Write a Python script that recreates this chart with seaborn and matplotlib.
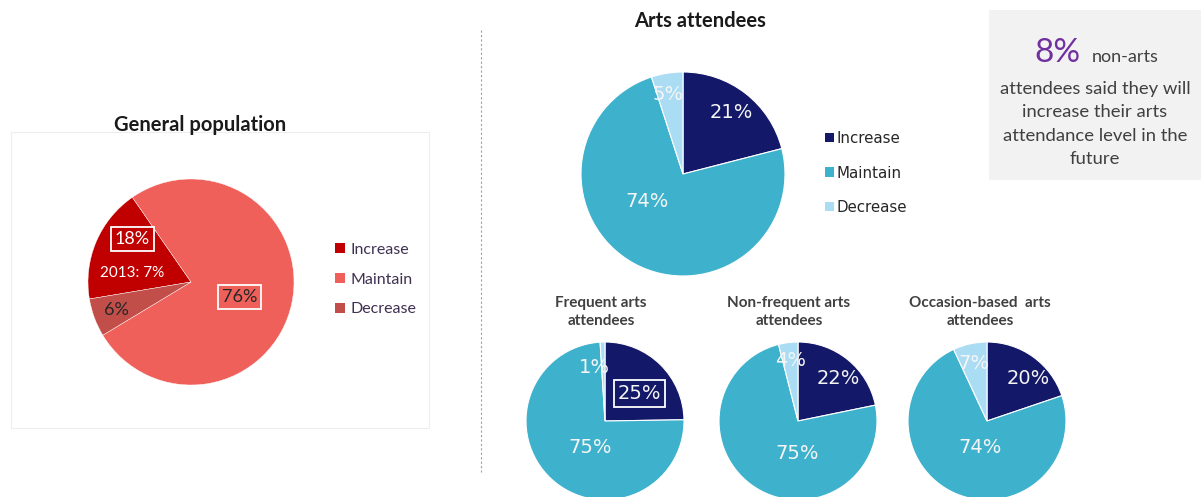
import matplotlib
matplotlib.use("Agg")
import matplotlib.pyplot as plt
from matplotlib.patches import Rectangle
from matplotlib.lines import Line2D
import seaborn as sns

sns.set_theme(style="white")
plt.rcParams["font.family"] = ["DejaVu Sans"]

# ---- data ----
categories = ["Increase", "Maintain", "Decrease"]

general_values = [18, 76, 6]
general_prev_increase = 7          # 2013 value for "Increase"

arts_values = [21, 74, 5]
frequent_values = [25, 75, 1]
nonfrequent_values = [22, 75, 4]
occasion_values = [20, 74, 7]

segment_titles = ["Frequent arts\nattendees", "Non-frequent arts\nattendees",
                  "Occasion-based  arts\nattendees"]

general_colors = sns.color_palette(["#C00000", "#F0605A", "#C24E4A"])
arts_colors = sns.color_palette(["#141868", "#3EB2CD", "#AADCF3"])

W, H = 1201, 497
fig = plt.figure(figsize=(W / 100, H / 100), dpi=100)
fig.patch.set_facecolor("white")


def px_axes(cx, cy, r):
    ax = fig.add_axes([(cx - r) / W, (H - cy - r) / H, 2 * r / W, 2 * r / H])
    ax.set_axis_off()
    return ax


def draw_pie(ax, values, colors, start, lw=0.8):
    wedges, _ = ax.pie(values, colors=colors, startangle=start, counterclock=False,
                       wedgeprops=dict(edgecolor="white", linewidth=lw))
    ax.set_xlim(-1, 1)
    ax.set_ylim(-1, 1)
    ax.set_aspect("equal")
    return wedges


def fx(x):
    return x / W


def fy(y):
    return 1 - y / H


# ---- decorations: panel frame, divider, info box (behind everything) ----
fig.add_artist(Rectangle((fx(11), fy(428)), (429 - 11) / W, (428 - 132) / H,
                         transform=fig.transFigure, fc="white", ec="#EDEDED", lw=0.8,
                         zorder=-10))
fig.add_artist(Line2D([fx(481), fx(481)], [fy(30), fy(472)], transform=fig.transFigure,
                      color="#A0A0A0", lw=0.8, ls=(0, (2, 2)), zorder=-10))
fig.add_artist(Rectangle((fx(989), fy(180)), (W - 989) / W, (180 - 10) / H,
                         transform=fig.transFigure, fc="#F2F2F2", ec="none", zorder=-10))

# ---- General population ----
fig.text(fx(200), fy(125), "General population", ha="center", va="center",
         fontsize=14.5, fontweight="bold", family="Lato", color="#1A1A1A")
ax_g = px_axes(191, 282, 103)
w_g = draw_pie(ax_g, general_values, general_colors, 189.5, lw=0.3)

box = dict(boxstyle="square,pad=0.22", fc="none", ec="white", lw=1.3)
g_label_pos = [(-0.57, 0.42), (0.47, -0.15), (-0.72, -0.27)]
g_label_col = ["white", "#262626", "#262626"]
g_label_box = [True, True, False]
for v, (x, y), c, b in zip(general_values, g_label_pos, g_label_col, g_label_box):
    ax_g.text(x, y, f"{v}%", ha="center", va="center", fontsize=13, family="Lato",
              color=c, bbox=box if b else None)
ax_g.text(-0.57, 0.09, f"2013: {general_prev_increase}%", ha="center", va="center",
          fontsize=11, family="Lato", color="white")

leg_g = ax_g.legend(w_g, categories, loc="center left",
                    bbox_to_anchor=(fx(335), fy(279.5)), bbox_transform=fig.transFigure,
                    frameon=False, borderpad=0, borderaxespad=0, handlelength=0.65,
                    handleheight=0.65, handletextpad=0.3, labelspacing=1.0,
                    prop=dict(family="Lato", size=11.5))
for t in leg_g.get_texts():
    t.set_color("#3F3151")
for h in leg_g.legend_handles:
    h.set_edgecolor("none")

# ---- Arts attendees ----
fig.text(fx(700), fy(21), "Arts attendees", ha="center", va="center",
         fontsize=14.5, fontweight="bold", family="Lato", color="#1A1A1A")
ax_a = px_axes(683, 174, 102)
w_a = draw_pie(ax_a, arts_values, arts_colors, 90)
a_label_pos = [(0.47, 0.60), (-0.35, -0.27), (-0.15, 0.78)]
for v, (x, y) in zip(arts_values, a_label_pos):
    ax_a.text(x, y, f"{v}%", ha="center", va="center", fontsize=14, color="#F5F5F5")

leg_a = ax_a.legend(w_a, categories, loc="center left",
                    bbox_to_anchor=(fx(825), fy(173)), bbox_transform=fig.transFigure,
                    frameon=False, borderpad=0, borderaxespad=0, handlelength=0.6,
                    handleheight=0.6, handletextpad=0.15, labelspacing=1.3,
                    prop=dict(size=10.8))
for t in leg_a.get_texts():
    t.set_color("#262626")
for h in leg_a.legend_handles:
    h.set_edgecolor("none")

# ---- Arts attendee segments ----
segments = [frequent_values, nonfrequent_values, occasion_values]
seg_centers = [605, 798, 987]
seg_title_x = [601, 789, 980]
seg_label_pos = [
    [(0.44, 0.35), (-0.19, -0.34), (-0.13, 0.68)],
    [(0.51, 0.54), (-0.01, -0.41), (-0.10, 0.76)],
    [(0.52, 0.54), (-0.09, -0.34), (-0.16, 0.73)],
]
for vals, cx, tx, title, lpos in zip(segments, seg_centers, seg_title_x,
                                     segment_titles, seg_label_pos):
    fig.text(fx(tx), fy(312), title, ha="center", va="center", fontsize=11,
             fontweight="bold", family="Lato", color="#404040", linespacing=1.45)
    ax = px_axes(cx, 421, 79)
    draw_pie(ax, vals, arts_colors, 90)
    for i, (v, (x, y)) in enumerate(zip(vals, lpos)):
        boxed = (cx == seg_centers[0] and i == 0)
        ax.text(x, y, f"{v}%", ha="center", va="center", fontsize=14, color="#F5F5F5",
                bbox=dict(boxstyle="square,pad=0.2", fc="none", ec="white", lw=1.3)
                if boxed else None)

# ---- info box ----
fig.text(fx(1080), fy(62), "8%", ha="right", va="baseline", fontsize=24,
         family="Lato", color="#7030A0")
fig.text(fx(1092), fy(62), "non-arts", ha="left", va="baseline", fontsize=13,
         family="Lato", color="#404040")
info_lines = ["attendees said they will", "increase their arts",
              "attendance level in the", "future"]
for i, line in enumerate(info_lines):
    fig.text(fx(1095), fy(94 + i * 23.3), line, ha="center", va="baseline",
             fontsize=13.3, family="Lato", color="#404040")

fig.savefig("out.png", dpi=100, facecolor="white")
